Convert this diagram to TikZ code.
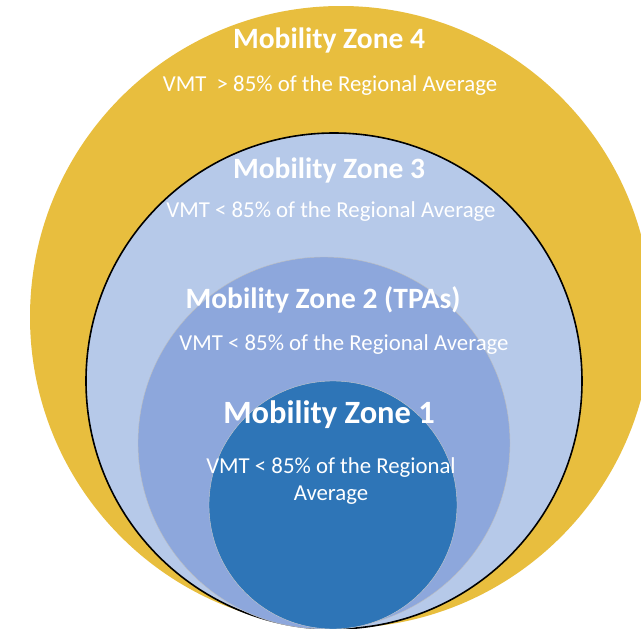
\documentclass[tikz,border=0pt]{standalone}
\usepackage{fontspec}
\setmainfont{Carlito}
\usepackage{tikz}
\usetikzlibrary{positioning}
\definecolor{zoneyellow}{RGB}{232,190,62}
\definecolor{zonepale}{RGB}{182,201,233}
\definecolor{zonemid}{RGB}{141,167,220}
\definecolor{zonedeep}{RGB}{46,117,183}
\tikzset{
  zone/.style={circle, inner sep=0pt, outer sep=0pt},
  title/.style={text=white, font=\bfseries\fontsize{29.5}{32}\selectfont, align=center},
  note/.style={text=white, font=\fontsize{22.8}{27}\selectfont, align=center},
}

\begin{document}
\begin{tikzpicture}[x=1pt, y=-1pt]
  \useasboundingbox (0,0) rectangle (641,629);
  \fill[white] (0,0) rectangle (641,629);

  % nested zones, all touching at the bottom
  \node[zone, fill=zoneyellow, minimum size=622pt] (zone4) at (341,317) {};
  \node[zone, fill=zonepale, draw=black, line width=1.6pt, minimum size=496pt] (zone3) at (334,381) {};
  \node[zone, fill=zonemid, draw=black!25, minimum size=372pt] (zone2) at (324,443) {};
  \node[zone, fill=zonedeep, draw=black!20, minimum size=248pt] (zone1) at (333,505) {};

  \node[title] (title4) at (329,40) {Mobility Zone 4};
  \node[note] (note4) at (330,86) {VMT~ > 85\% of the Regional Average};
  \node[title] (title3) at (329,170) {Mobility Zone 3};
  \node[note] (note3) at (331,212) {VMT < 85\% of the Regional Average};
  \node[title] (title2) at (323,300) {Mobility Zone 2 (TPAs)};
  \node[note] (note2) at (344,345) {VMT < 85\% of the Regional Average};
  \node[title, font=\bfseries\fontsize{32.5}{36}\selectfont] (title1) at (329,415) {Mobility Zone 1};
  \node[note] (note1) at (331,481) {VMT < 85\% of the Regional\\Average};
\end{tikzpicture}
\end{document}
